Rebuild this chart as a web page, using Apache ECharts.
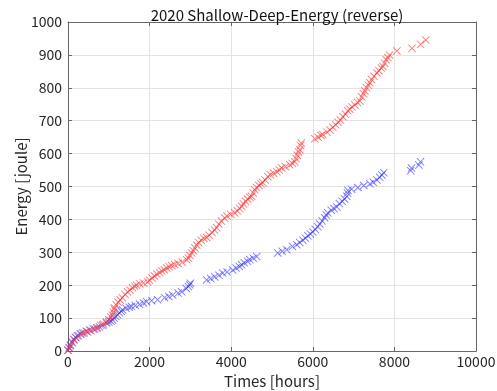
<!DOCTYPE html>
<html>
<head>
<meta charset="utf-8">
<script src="https://cdn.jsdelivr.net/npm/echarts@6/dist/echarts.min.js"></script>
<style>
html,body{margin:0;padding:0;background:#fff;}
#c{width:497px;height:391px;}
</style>
</head>
<body>
<div id="c"></div>
<script>
const titleText = '2020 Shallow-Deep-Energy (reverse)';
const xName = 'Times [hours]';
const yName = 'Energy [joule]';
const xTicks = [0, 2000, 4000, 6000, 8000, 10000];
const yTicks = [0, 100, 200, 300, 400, 500, 600, 700, 800, 900, 1000];

const redHours = [0,30,60,100,150,200,260,320,400,480,560,650,720,800,870,945,1000,1050,1092,1110,1130,1141,1180,1230,1280,1330,1400,1460,1520,1580,1632,1680,1760,1850,1951,2000,2060,2120,2180,2245,2300,2360,2420,2480,2540,2613,2700,2800,2908,2950,2990,3031,3070,3110,3153,3200,3260,3330,3399,3460,3530,3590,3644,3700,3760,3840,3900,3990,4086,4150,4210,4258,4300,4350,4400,4460,4503,4540,4577,4620,4680,4730,4773,4830,4896,4960,5040,5117,5180,5239,5330,5436,5500,5558,5590,5620,5650,5681,5700,5720,6049,6130,6200,6245,6350,6420,6491,6560,6620,6680,6740,6800,6860,6908,6960,7030,7100,7153,7200,7240,7276,7320,7360,7399,7440,7500,7571,7620,7680,7718,7760,7800,7840,7880,8061,8430,8640,8770];
const redEnergy = [2,8,15,25,33,40,47,52,55,58,62,67,71,78,82,88,95,103,109,118,127,131,140,148,155,162,172,179,185,192,197,200,204,207,210,215,222,228,233,238,243,247,252,256,260,263,266,270,277,282,290,298,305,313,322,330,337,342,345,352,360,368,375,385,395,404,410,415,420,426,433,440,447,455,462,467,470,480,490,497,503,508,512,520,530,536,540,545,550,556,560,566,570,575,585,595,605,612,625,632,645,650,655,658,665,672,680,688,695,702,712,720,730,735,742,748,755,760,772,782,790,800,808,815,825,835,845,852,860,865,875,885,892,900,912,920,932,945];

const blueHours = [0,30,60,100,140,180,230,300,356,450,528,620,700,773,850,945,1000,1050,1092,1130,1170,1215,1260,1300,1337,1420,1500,1558,1650,1755,1850,1926,2050,2196,2368,2470,2564,2700,2785,2900,2950,2982,3000,3399,3500,3595,3700,3791,3900,4037,4120,4200,4258,4320,4400,4454,4540,4626,5141,5250,5362,5500,5607,5680,5755,5820,5880,5940,6000,6060,6120,6172,6230,6290,6330,6368,6450,6520,6589,6650,6720,6780,6834,6850,6860,6950,7104,7250,7399,7480,7571,7640,7693,7740,8400,8420,8600,8640];
const blueEnergy = [2,10,18,28,36,42,46,52,55,60,64,67,70,73,78,85,88,91,94,100,105,110,116,121,125,130,133,135,138,142,146,150,153,156,162,166,170,176,180,190,196,201,206,216,220,225,230,237,240,246,252,257,262,268,273,278,282,287,298,303,308,318,323,330,337,343,350,356,362,370,378,386,395,405,413,420,428,433,438,448,455,462,470,480,488,492,497,503,508,513,520,528,535,542,548,556,565,575];

const pairs = (xs, ys) => xs.map((x, i) => [x, ys[i]]);
const xMark = 'path://M0,0.8L0.8,0L5,4.2L9.2,0L10,0.8L5.8,5L10,9.2L9.2,10L5,5.8L0.8,10L0,9.2L4.2,5Z';
const font = '"Noto Sans CJK JP", "Noto Sans", sans-serif';
const axisCol = '#666';
const txtCol = '#262626';

const chart = echarts.init(document.getElementById('c'), null, {renderer: 'canvas'});
const hiddenAxisCommon = {
  type: 'value', axisLabel: {show: false}, splitLine: {show: false},
  axisLine: {show: true, onZero: false, lineStyle: {color: axisCol, width: 1}},
  axisTick: {show: true, inside: true, length: 4, lineStyle: {color: axisCol}}
};
chart.setOption({
  animation: false,
  backgroundColor: '#fff',
  title: {
    text: titleText, left: 272, top: 3, textAlign: 'center',
    textStyle: {fontFamily: font, fontSize: 15, fontWeight: 'normal', color: '#111'}
  },
  grid: {left: 68, right: 21, top: 22, bottom: 40, containLabel: false, outerBoundsMode: 'none'},
  xAxis: [{
    type: 'value', min: xTicks[0], max: xTicks[xTicks.length - 1], interval: xTicks[1] - xTicks[0],
    name: xName, nameLocation: 'middle', nameGap: 23, nameMoveOverlap: false,
    nameTextStyle: {fontFamily: font, fontSize: 15, color: txtCol},
    axisLine: {show: true, onZero: false, lineStyle: {color: axisCol, width: 1}},
    axisTick: {show: true, inside: true, length: 4, lineStyle: {color: axisCol}},
    axisLabel: {fontFamily: font, fontSize: 14, color: txtCol, margin: 4, formatter: v => String(v)},
    splitLine: {show: true, lineStyle: {color: '#e3e3e3', width: 1}}
  }, Object.assign({position: 'top', min: xTicks[0], max: xTicks[xTicks.length - 1], interval: xTicks[1] - xTicks[0]}, hiddenAxisCommon)],
  yAxis: [{
    type: 'value', min: yTicks[0], max: yTicks[yTicks.length - 1], interval: yTicks[1] - yTicks[0],
    name: yName, nameLocation: 'middle', nameGap: 39, nameMoveOverlap: false,
    nameTextStyle: {fontFamily: font, fontSize: 15, color: txtCol},
    axisLine: {show: true, onZero: false, lineStyle: {color: axisCol, width: 1}},
    axisTick: {show: true, inside: true, length: 4, lineStyle: {color: axisCol}},
    axisLabel: {fontFamily: font, fontSize: 14, color: txtCol, margin: 6, formatter: v => String(v)},
    splitLine: {show: true, lineStyle: {color: '#e3e3e3', width: 1}}
  }, Object.assign({position: 'right', min: yTicks[0], max: yTicks[yTicks.length - 1], interval: yTicks[1] - yTicks[0]}, hiddenAxisCommon)],
  series: [{
    type: 'scatter', name: 'deep', data: pairs(blueHours, blueEnergy),
    symbol: xMark, symbolSize: 8,
    itemStyle: {color: 'rgba(50,50,255,0.8)'}
  }, {
    type: 'scatter', name: 'shallow', data: pairs(redHours, redEnergy),
    symbol: xMark, symbolSize: 8,
    itemStyle: {color: 'rgba(255,45,45,0.8)'}
  }]
});
</script>
</body>
</html>
